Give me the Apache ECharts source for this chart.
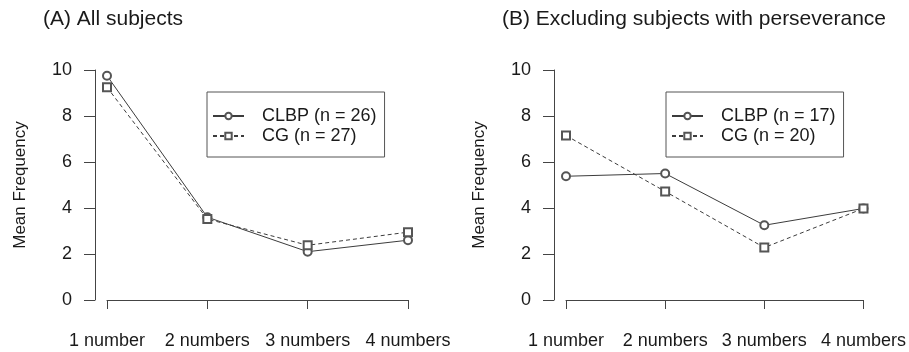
<!DOCTYPE html>
<html style="height: 100%">
<head>
  <meta charset="utf-8">
</head>
<body style="height: 100%; margin: 0; background: #fff">
  <div id="container" style="width: 909px; height: 352px"></div>
  <script src="https://cdn.jsdelivr.net/npm/echarts@6/dist/echarts.min.js"></script>
  <script>
    var categories = ['1 number', '2 numbers', '3 numbers', '4 numbers'];
    var yTicks = [0, 2, 4, 6, 8, 10];

    // panel A: all subjects
    var allClbp = [9.75, 3.6, 2.1, 2.6];
    var allCg = [9.25, 3.52, 2.38, 2.95];
    // panel B: excluding subjects with perseverance
    var exclClbp = [5.38, 5.5, 3.25, 3.98];
    var exclCg = [7.15, 4.72, 2.28, 3.98];

    var names = ['CLBP (n = 26)', 'CG (n = 27)', 'CLBP (n = 17)', 'CG (n = 20)'];
    var titles = ['(A) All subjects', '(B) Excluding subjects with perseverance'];

    var font = "'Liberation Sans', Arial, sans-serif";
    var ink = '#1a1a1a';
    var lineCol = '#3c3c3c';

    var chart = echarts.init(document.getElementById('container'), null, { renderer: 'canvas' });

    function xAxisFor(i) {
      return {
        type: 'category',
        gridIndex: i,
        data: categories,
        boundaryGap: false,
        offset: 9,
        axisLine: { lineStyle: { color: '#444', width: 1 } },
        axisTick: { length: 9, lineStyle: { color: '#444' } },
        axisLabel: { margin: 23, fontSize: 18, color: ink, fontFamily: font, interval: 0 },
        splitLine: { show: false }
      };
    }

    function yAxisFor(i) {
      return {
        type: 'value',
        gridIndex: i,
        min: yTicks[0],
        max: yTicks[yTicks.length - 1],
        interval: 2,
        offset: 12,
        name: 'Mean Frequency',
        nameLocation: 'middle',
        nameRotate: 90,
        nameGap: 66,
        nameTextStyle: { fontSize: 17, color: ink, fontFamily: font },
        axisLine: { show: true, lineStyle: { color: '#444', width: 1 } },
        axisTick: { show: true, length: 11, lineStyle: { color: '#444' } },
        axisLabel: { margin: 23, fontSize: 18, color: ink, fontFamily: font },
        splitLine: { show: false }
      };
    }

    function legendFor(i, left) {
      return {
        data: [names[i * 2], names[i * 2 + 1]],
        left: left,
        top: 92,
        orient: 'vertical',
        itemWidth: 31,
        itemHeight: 8,
        itemGap: 2,
        padding: [15, 8, 12, 5],
        borderColor: '#555',
        borderWidth: 1,
        selectedMode: false,
        textStyle: { fontSize: 18, color: ink, fontFamily: font, padding: [0, 0, 0, 13] }
      };
    }

    function seriesFor(name, data, i, dashed) {
      return {
        name: name,
        type: 'line',
        xAxisIndex: i,
        yAxisIndex: i,
        data: data,
        symbol: dashed ? 'emptyRect' : 'emptyCircle',
        symbolSize: 8,
        itemStyle: { color: '#555', borderWidth: 1 },
        lineStyle: { color: lineCol, width: 1, type: dashed ? [4, 3] : 'solid' },
        animation: false
      };
    }

    var titleStyle = { fontSize: 21, fontWeight: 'normal', color: ink, fontFamily: font };

    var option = {
      backgroundColor: '#fff',
      title: [
        { text: titles[0], left: 43, top: 9, padding: 0, textStyle: titleStyle },
        { text: titles[1], left: 502, top: 9, padding: 0, textStyle: titleStyle }
      ],
      legend: [legendFor(0, 207), legendFor(1, 666)],
      grid: [
        { left: 107, top: 70, width: 301, height: 230 },
        { left: 566, top: 70, width: 301, height: 230 }
      ],
      xAxis: [xAxisFor(0), xAxisFor(1)],
      yAxis: [yAxisFor(0), yAxisFor(1)],
      series: [
        seriesFor(names[0], allClbp, 0, false),
        seriesFor(names[1], allCg, 0, true),
        seriesFor(names[2], exclClbp, 1, false),
        seriesFor(names[3], exclCg, 1, true)
      ]
    };

    chart.setOption(option);
    window.addEventListener('resize', chart.resize);
  </script>
</body>
</html>
